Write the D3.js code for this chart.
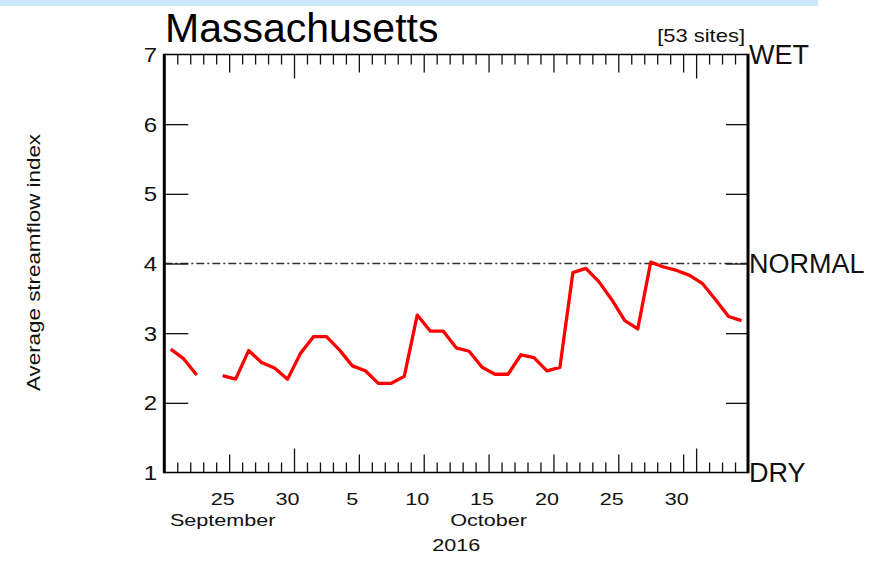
<!DOCTYPE html>
<html>
<head>
<meta charset="utf-8">
<script src="https://cdn.jsdelivr.net/npm/d3@7"></script>
<style>
  body { margin: 0; background: #fff; }
  svg { display: block; font-family: "Liberation Sans", Arial, sans-serif; }
</style>
</head>
<body>
<svg id="chart" width="885" height="563"></svg>
<script>
// données : un point par jour, 21 sept -> 4 nov 2016
const startDay = Date.UTC(2016, 8, 21);
const endDay = Date.UTC(2016, 10, 5);
const indexValues = [
  2.77, 2.63, 2.40, null, 2.39, 2.34, 2.75, 2.58, 2.50, 2.34,
  2.71, 2.95, 2.95, 2.76, 2.53, 2.46, 2.28, 2.28, 2.38, 3.26,
  3.03, 3.03, 2.79, 2.74, 2.51, 2.41, 2.41, 2.69, 2.65, 2.46,
  2.51, 3.87, 3.93, 3.74, 3.48, 3.18, 3.06, 4.02, 3.95, 3.90,
  3.83, 3.71, 3.48, 3.24, 3.18
];
const yTicks = [1, 2, 3, 4, 5, 6, 7];
const months = [
  { name: "September", from: Date.UTC(2016, 8, 21), to: Date.UTC(2016, 8, 30) },
  { name: "October", from: Date.UTC(2016, 9, 1), to: Date.UTC(2016, 9, 31) }
];
const classes = [
  { label: "WET", value: 7 },
  { label: "NORMAL", value: 4 },
  { label: "DRY", value: 1 }
];
const title = "Massachusetts";
const sites = "[53 sites]";
const yearLabel = "2016";
const yTitle = "Average streamflow index";

const svg = d3.select("#chart");
const plotLeft = 164.3, plotRight = 748, plotTop = 54.5, plotBottom = 472.5;
const halfDay = 12 * 3600 * 1000;
const dayMs = 2 * halfDay;

const x = d3.scaleUtc().domain([startDay, endDay]).range([plotLeft, plotRight]);
const y = d3.scaleLinear().domain([1, 7]).range([plotBottom, plotTop]);

const days = d3.utcDay.range(new Date(startDay), new Date(endDay));
const data = days.map((d, i) => ({ date: d, value: indexValues[i] }));

// bande bleue en haut
svg.append("rect").attr("x", 0).attr("y", 0).attr("width", 818).attr("height", 6)
  .attr("fill", "#cbe8fb");

// texte étiré horizontalement comme dans l'original
function wideText(px, py, txt, anchor, size, sx, rot) {
  svg.append("text")
    .attr("transform", `translate(${px},${py})` + (rot ? ` rotate(${rot})` : "") + ` scale(${sx},1)`)
    .attr("text-anchor", anchor)
    .attr("font-size", size)
    .attr("fill", "#111")
    .text(txt);
}

// ligne normale (tirets-points)
svg.append("line")
  .attr("x1", plotLeft).attr("x2", plotRight)
  .attr("y1", y(4)).attr("y2", y(4))
  .attr("stroke", "#333").attr("stroke-width", 1.5)
  .attr("stroke-dasharray", "8,3,2,3");

// graduations des jours
const bounds = d3.utcDay.range(new Date(startDay + dayMs), new Date(endDay));
const longT = bounds.filter(d => d.getUTCDate() === 1);
const medT = bounds.filter(d => d.getUTCDate() !== 1 && (d.getUTCDate() - 1) % 5 === 0);
const shortT = bounds.filter(d => d.getUTCDate() !== 1 && (d.getUTCDate() - 1) % 5 !== 0);

[[shortT, 10], [medT, 18], [longT, 24]].forEach(([vals, len]) => {
  svg.append("g").attr("transform", `translate(0,${plotBottom})`)
    .call(d3.axisBottom(x).tickValues(vals).tickSize(-len).tickFormat(""))
    .call(g => g.select(".domain").remove());
  svg.append("g").attr("transform", `translate(0,${plotTop})`)
    .call(d3.axisTop(x).tickValues(vals).tickSize(-len).tickFormat(""))
    .call(g => g.select(".domain").remove());
});

svg.append("g").attr("transform", `translate(${plotLeft},0)`)
  .call(d3.axisLeft(y).tickValues([2, 3, 4, 5, 6]).tickSize(-24).tickFormat(""))
  .call(g => g.select(".domain").remove());
svg.append("g").attr("transform", `translate(${plotRight},0)`)
  .call(d3.axisRight(y).tickValues([2, 3, 4, 5, 6]).tickSize(-22).tickFormat(""))
  .call(g => g.selectAll(".domain").remove());

svg.selectAll(".tick line").attr("stroke", "#111").attr("stroke-width", 1.3);

// cadre
svg.append("line").attr("x1", plotLeft).attr("x2", plotRight).attr("y1", plotTop).attr("y2", plotTop)
  .attr("stroke", "#000").attr("stroke-width", 1.5);
svg.append("line").attr("x1", plotLeft).attr("x2", plotRight).attr("y1", plotBottom).attr("y2", plotBottom)
  .attr("stroke", "#000").attr("stroke-width", 1.5);
svg.append("line").attr("x1", plotLeft).attr("x2", plotLeft).attr("y1", plotTop - 0.7).attr("y2", plotBottom + 0.7)
  .attr("stroke", "#000").attr("stroke-width", 3);
svg.append("line").attr("x1", plotRight).attr("x2", plotRight).attr("y1", plotTop - 0.7).attr("y2", plotBottom + 0.7)
  .attr("stroke", "#000").attr("stroke-width", 3);

// courbe rouge
const line = d3.line()
  .defined(d => d.value !== null)
  .x(d => x(+d.date + halfDay))
  .y(d => y(d.value));
svg.append("path").datum(data)
  .attr("d", line)
  .attr("fill", "none")
  .attr("stroke", "#ff0000")
  .attr("stroke-width", 3.3)
  .attr("stroke-linejoin", "round");

// étiquettes axe Y
yTicks.forEach(v => wideText(157, y(v) + 7.5, v, "end", 20, 1.2));

// étiquettes jours
days.filter(d => d.getUTCDate() % 5 === 0).forEach(d => {
  wideText(x(+d + halfDay), 505, d.getUTCDate(), "middle", 17, 1.27);
});
months.forEach(m => {
  wideText(x((m.from + m.to) / 2), 526, m.name, "middle", 17, 1.27);
});
wideText((plotLeft + plotRight) / 2, 551, yearLabel, "middle", 17, 1.27);

// titre de l'axe Y
wideText(39.5, 262.5, yTitle, "middle", 17.5, 1.28, -90);

// classes à droite
classes.forEach(c => {
  svg.append("text").attr("x", plotRight + 1).attr("y", y(c.value) + 9.5)
    .attr("font-size", 27).attr("fill", "#111").text(c.label);
});

svg.append("text").attr("x", 165).attr("y", 42).attr("font-size", 41).attr("fill", "#000").text(title);
wideText(745, 42, sites, "end", 18, 1.22);
</script>
</body>
</html>
